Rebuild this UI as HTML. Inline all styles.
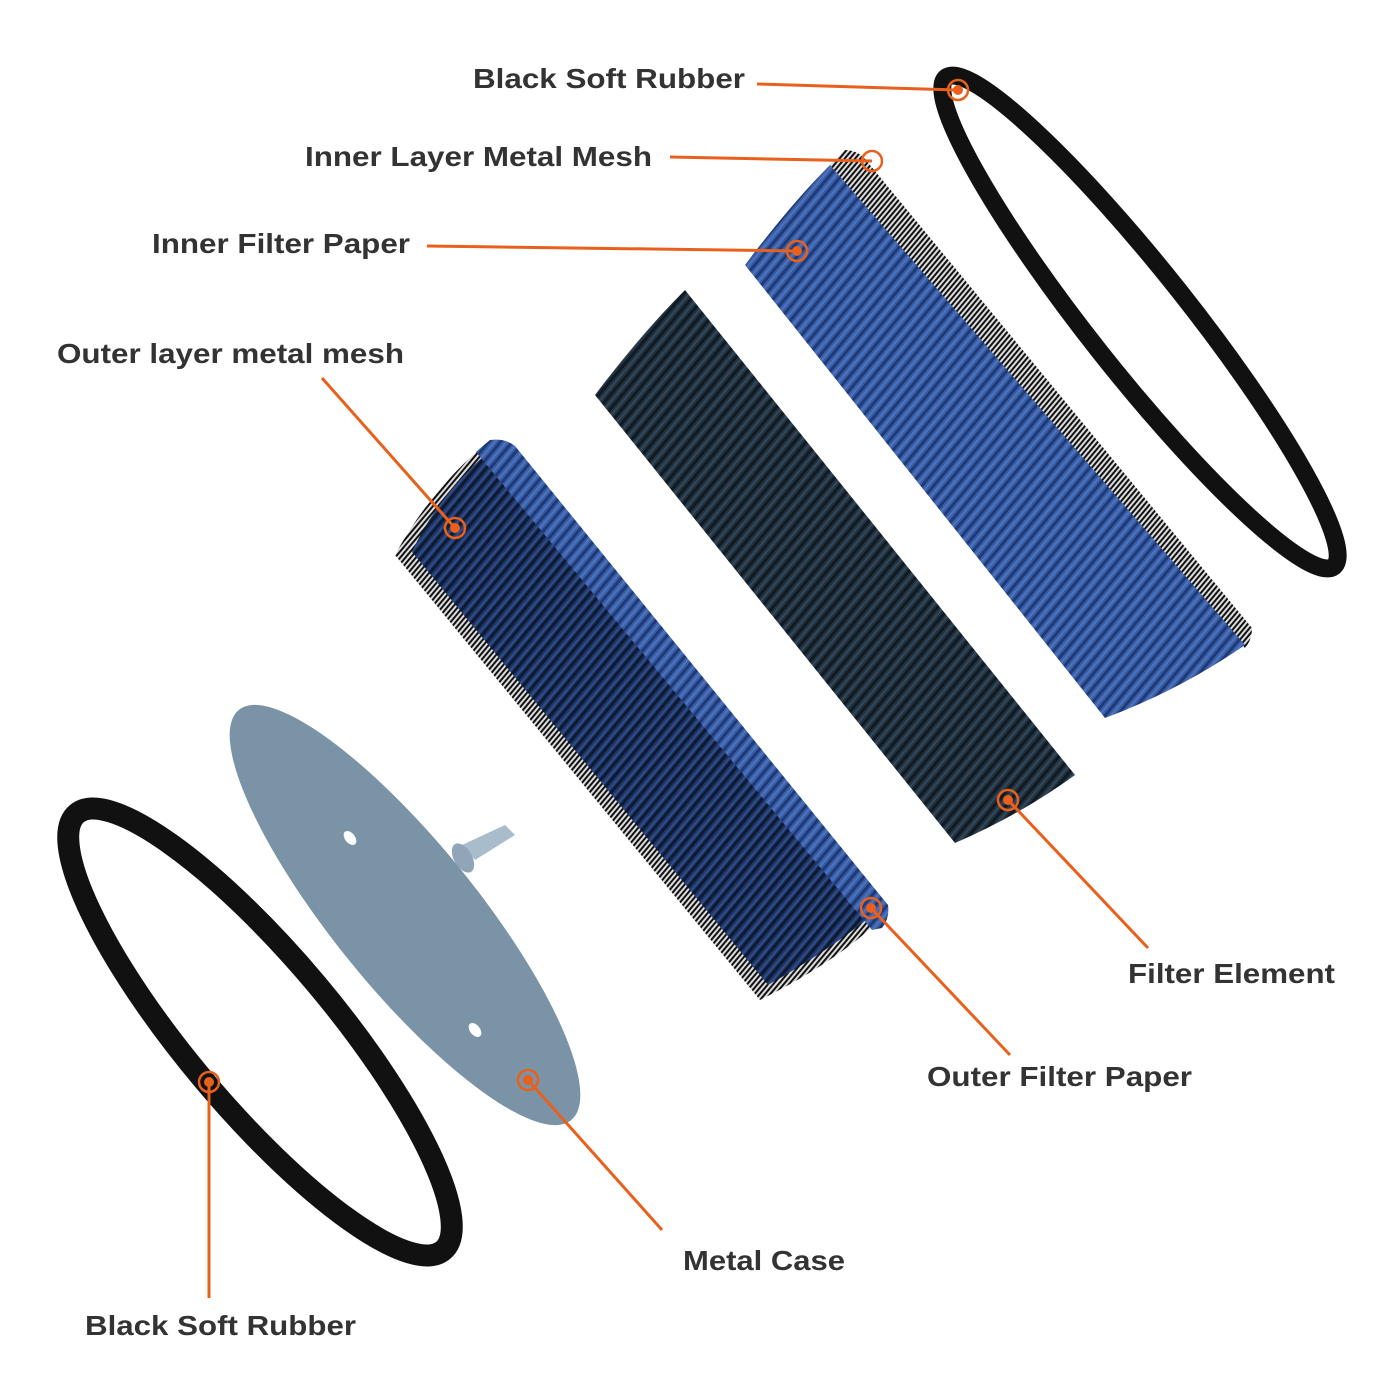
<!DOCTYPE html>
<html><head><meta charset="utf-8"><style>
html,body{margin:0;padding:0;background:#fff}
svg{display:block}
text{font-family:"Liberation Sans",Arial,sans-serif;font-weight:bold;font-size:28px;fill:#333}
</style></head><body>
<svg width="1400" height="1400" viewBox="0 0 1400 1400" xmlns="http://www.w3.org/2000/svg">
<defs>
<pattern id="pd" width="9" height="9" patternUnits="userSpaceOnUse" patternTransform="rotate(40)">
<rect width="9" height="9" fill="#22323f"/><rect width="3" height="9" fill="#101a22"/><rect x="5" width="2" height="9" fill="#33475a"/>
</pattern>
<pattern id="pb" width="9" height="9" patternUnits="userSpaceOnUse" patternTransform="rotate(40)">
<rect width="9" height="9" fill="#3a5ea6"/><rect width="3" height="9" fill="#1f3a78"/><rect x="5" width="2" height="9" fill="#4d73bd"/>
</pattern>
<pattern id="pbd" width="8" height="8" patternUnits="userSpaceOnUse" patternTransform="rotate(40)">
<rect width="8" height="8" fill="#1f3563"/><rect width="3" height="8" fill="#0e1a33"/><rect x="5" width="2" height="8" fill="#2e4c8a"/>
</pattern>
<pattern id="mesh" width="4" height="4" patternUnits="userSpaceOnUse" patternTransform="rotate(40)">
<rect width="4" height="4" fill="#ddd"/><rect width="2" height="4" fill="#111"/>
</pattern>
</defs>

<ellipse cx="1140" cy="322" rx="312" ry="50" transform="rotate(51.6 1140 322)" fill="none" stroke="#111" stroke-width="18"/>

<path d="M845,150 Q860,150 870,165 L1252,628 Q1252,640 1245,648 L830,165 Z" fill="url(#mesh)"/>
<path d="M745,265 Q790,205 830,165 L1245,645 Q1180,690 1105,718 Z" fill="url(#pb)"/>

<path d="M595,395 Q640,335 685,290 L1075,775 Q1020,815 955,843 Z" fill="url(#pd)"/>

<path d="M490,440 Q430,490 395,555 L760,1000 Q840,960 885,915 Z" fill="url(#mesh)"/>
<path d="M488,452 Q435,500 412,552 L768,985 Q830,950 872,915 Z" fill="url(#pbd)"/>
<path d="M490,440 Q505,438 515,446 L888,905 Q890,918 882,928 L872,930 L476,452 Z" fill="url(#pb)"/>

<ellipse cx="405" cy="915" rx="264" ry="72" transform="rotate(51 405 915)" fill="#7b93a6"/>
<ellipse cx="350" cy="838" rx="8" ry="5" transform="rotate(51 350 838)" fill="#fff"/>
<ellipse cx="475" cy="1030" rx="8" ry="5" transform="rotate(51 475 1030)" fill="#fff"/>
<polygon points="462,845 505,825 515,835 475,860" fill="#a9bccb"/>
<ellipse cx="463" cy="858" rx="9" ry="16" transform="rotate(-30 463 858)" fill="#90a6b8"/>

<ellipse cx="260" cy="1032" rx="285" ry="74" transform="rotate(50 260 1032)" fill="none" stroke="#111" stroke-width="22"/>

<g stroke="#e8601c" stroke-width="3" fill="none">
<line x1="757" y1="84" x2="958" y2="90"/>
<line x1="670" y1="157" x2="872" y2="161"/>
<line x1="427" y1="246" x2="797" y2="251"/>
<line x1="322" y1="378" x2="455" y2="528"/>
<line x1="1148" y1="948" x2="1008" y2="800"/>
<line x1="1010" y1="1055" x2="871" y2="908"/>
<line x1="662" y1="1230" x2="528" y2="1080"/>
<line x1="209" y1="1298" x2="209" y2="1082"/>
</g>
<g fill="none" stroke="#e8601c" stroke-width="2.5">
<circle cx="958" cy="90" r="10"/><circle cx="872" cy="161" r="10"/><circle cx="797" cy="251" r="10"/>
<circle cx="455" cy="528" r="10"/><circle cx="1008" cy="800" r="10"/><circle cx="871" cy="908" r="10"/>
<circle cx="528" cy="1080" r="10"/><circle cx="209" cy="1082" r="10"/>
</g>
<g fill="#e8601c">
<circle cx="958" cy="90" r="5"/><circle cx="797" cy="251" r="5"/>
<circle cx="455" cy="528" r="5"/><circle cx="1008" cy="800" r="5"/><circle cx="871" cy="908" r="5"/>
<circle cx="528" cy="1080" r="5"/><circle cx="209" cy="1082" r="5"/>
</g>

<text x="473" y="88" textLength="272" lengthAdjust="spacingAndGlyphs">Black Soft Rubber</text>
<text x="305" y="166" textLength="347" lengthAdjust="spacingAndGlyphs">Inner Layer Metal Mesh</text>
<text x="152" y="253" textLength="258" lengthAdjust="spacingAndGlyphs">Inner Filter Paper</text>
<text x="57" y="363" textLength="347" lengthAdjust="spacingAndGlyphs">Outer layer metal mesh</text>
<text x="1128" y="983" textLength="207" lengthAdjust="spacingAndGlyphs">Filter Element</text>
<text x="927" y="1086" textLength="265" lengthAdjust="spacingAndGlyphs">Outer Filter Paper</text>
<text x="683" y="1270" textLength="162" lengthAdjust="spacingAndGlyphs">Metal Case</text>
<text x="85" y="1335" textLength="271" lengthAdjust="spacingAndGlyphs">Black Soft Rubber</text>
</svg>
</body></html>
